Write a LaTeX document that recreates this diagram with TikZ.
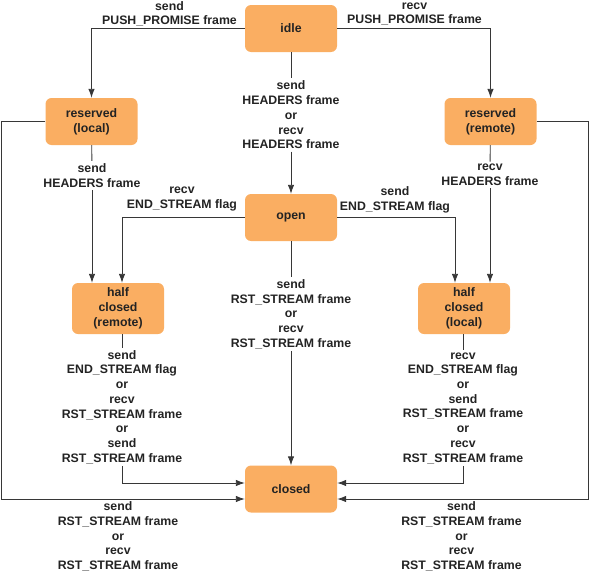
\documentclass[tikz,border=0pt]{standalone}
\usepackage{fontspec}
\setmainfont{Liberation Sans}
\usepackage{tikz}
\usepackage{xcolor}
\usetikzlibrary{arrows.meta,calc}
\definecolor{stateorange}{RGB}{250,174,98}
\definecolor{linegray}{RGB}{55,55,55}
\definecolor{textgray}{RGB}{35,35,35}

\tikzset{
  state/.style={rectangle, rounded corners=6pt, fill=stateorange, minimum width=92pt,
    minimum height=47pt, align=center, text=textgray,
    font=\fontsize{12.3}{14.7}\selectfont\bfseries},
  trans/.style={align=center, inner sep=2.5pt, text=textgray,
    font=\fontsize{12.3}{14.7}\selectfont\bfseries},
  edge/.style={draw=linegray, line width=0.9pt}
}

\begin{document}
\begin{tikzpicture}[>={Latex[length=9pt,width=6.5pt]}, x=1pt, y=-1pt]
      \useasboundingbox (0,0) rectangle (590,573);
      % states
      \node[state] (idle) at (291,28.5) {idle};
      \node[state] (resl) at (91.5,121.5) {reserved\\(local)};
      \node[state] (resr) at (490.5,121.5) {reserved\\(remote)};
      \node[state] (open) at (291,217.5) {open};
      \node[state, minimum height=51pt] (hcrem) at (118,308.5) {half\\closed\\(remote)};
      \node[state, minimum height=51pt] (hcloc) at (464,308.5) {half\\closed\\(local)};
      \node[state] (closed) at (291,489) {closed};
      % transition texts
      \node[trans] (tpushs) at (169.5,13.8) {send\\PUSH\_PROMISE frame};
      \node[trans] (tpushr) at (414.5,13.8) {recv\\PUSH\_PROMISE frame};
      \node[trans] (thead) at (291,115) {send\\HEADERS frame\\or\\recv\\HEADERS frame};
      \node[trans] (theadl) at (92,175.5) {send\\HEADERS frame};
      \node[trans] (theadr) at (490,175) {recv\\HEADERS frame};
      \node[trans] (tendr) at (182,199) {recv\\END\_STREAM flag};
      \node[trans] (tends) at (395,199.5) {send\\END\_STREAM flag};
      \node[trans] (trst) at (291,314) {send\\RST\_STREAM frame\\or\\recv\\RST\_STREAM frame};
      \node[trans] (thcrem) at (122,407) {send\\END\_STREAM flag\\or\\recv\\RST\_STREAM frame\\or\\send\\RST\_STREAM frame};
      \node[trans] (thcloc) at (463,408) {recv\\END\_STREAM flag\\or\\send\\RST\_STREAM frame\\or\\recv\\RST\_STREAM frame};
      \node[trans] (tbotl) at (118,536.5) {send\\RST\_STREAM frame\\or\\recv\\RST\_STREAM frame};
      \node[trans] (tbotr) at (461.5,536.5) {send\\RST\_STREAM frame\\or\\recv\\RST\_STREAM frame};
      \coordinate (outl) at (1.5,499);
      \coordinate (outr) at (588,499);
      % transitions
      \draw[edge, ->] (idle.west) -| (resl.north);
      \draw[edge, ->] (idle.east) -| (resr.north);
      \draw[edge] (idle) -- (thead);
      \draw[edge, ->] (thead) -- (open);
      \draw[edge] (resl) -- (theadl);
      \draw[edge, ->] (theadl.south) -- (theadl.south |- hcrem.north);
      \draw[edge] (resr) -- (theadr);
      \draw[edge, ->] (theadr.south) -- (theadr.south |- hcloc.north);
      \draw[edge, ->] (open.west) -| (thcrem.north |- hcrem.north);
      \draw[edge, ->] (open.east) -| ($(hcloc.north)+(-9,0)$);
      \draw[edge] (open) -- (trst);
      \draw[edge, ->] (trst) -- (closed);
      \draw[edge] (hcrem.south -| thcrem.north) -- (thcrem.north);
      \draw[edge, ->] (thcrem.south) |- ($(closed.west)+(0,-6)$);
      \draw[edge] (hcloc.south -| thcloc.north) -- (thcloc.north);
      \draw[edge, ->] (thcloc.south) |- ($(closed.east)+(0,-6)$);
      \draw[edge, ->] (resl.west) -| (outl) -- (outl -| closed.west);
      \draw[edge, ->] (resr.east) -| (outr) -- (outr -| closed.east);
\end{tikzpicture}
\end{document}
